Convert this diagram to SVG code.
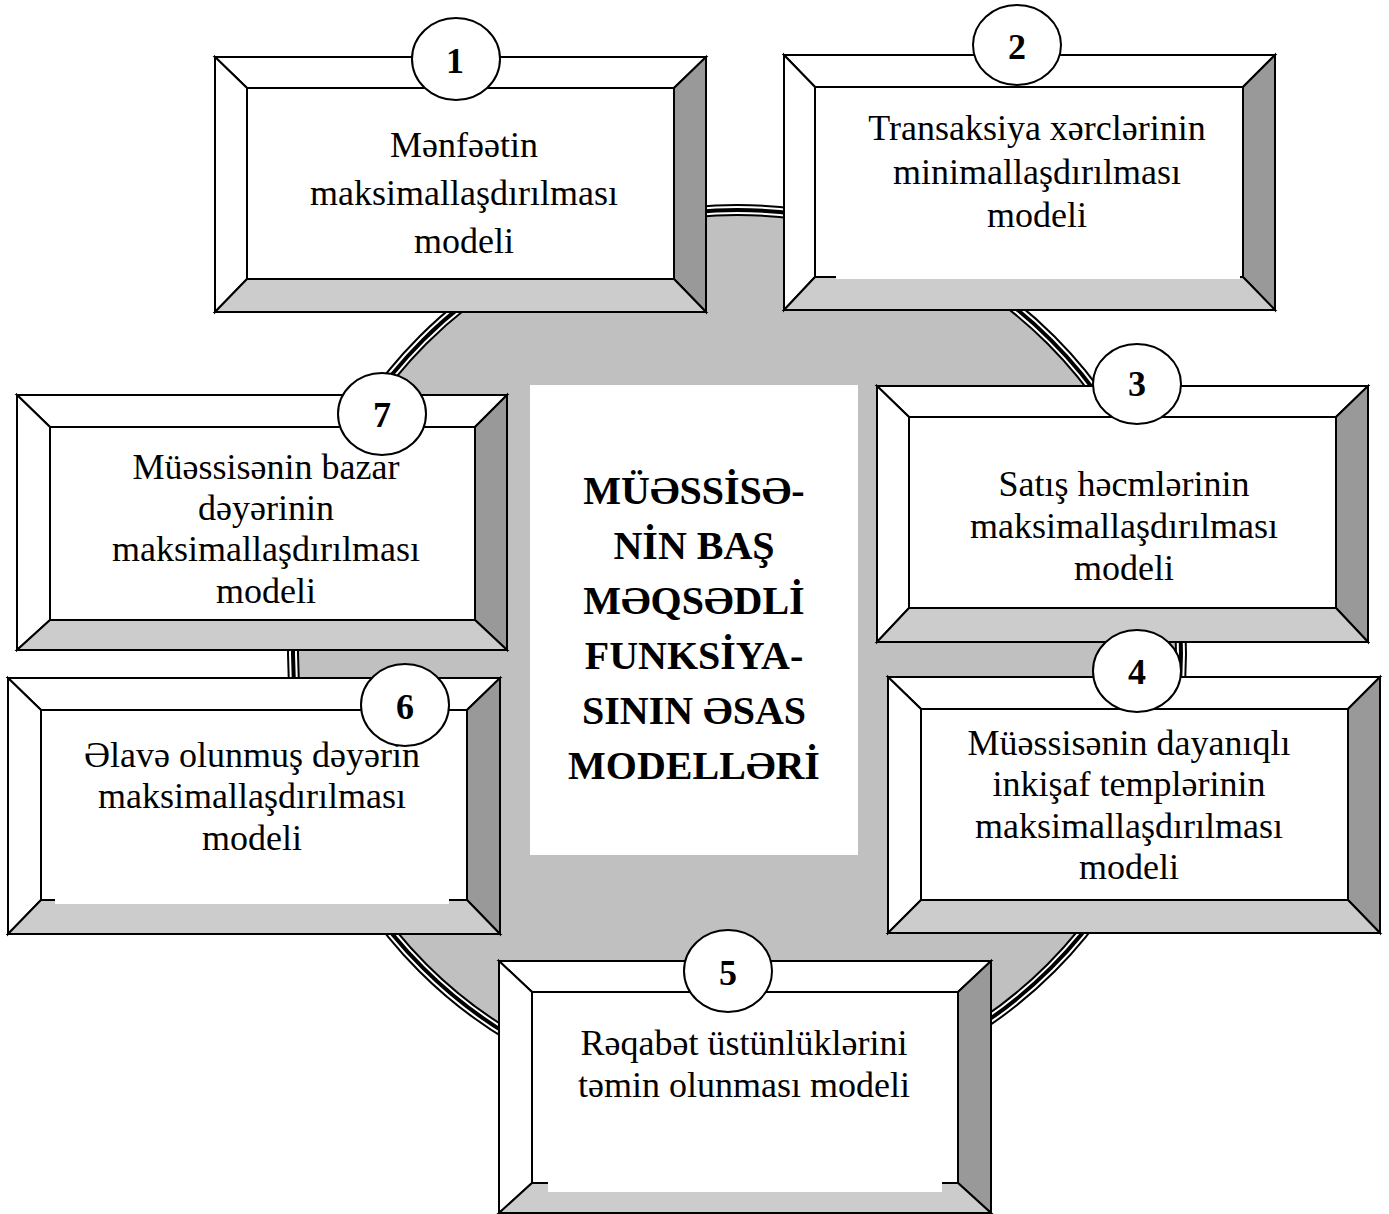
<svg xmlns="http://www.w3.org/2000/svg" width="1389" height="1214" viewBox="0 0 1389 1214">
  <style>
    .edge { stroke: #000; stroke-width: 2; stroke-linejoin: miter; }
    .lit { fill: #fff; }
    .shade { fill: #999; }
    .floor { fill: #ccc; }
    .face { fill: #fff; stroke: #000; stroke-width: 2; }
    .patch { fill: #fff; }
    .txt { font-family: "Liberation Serif", "Times New Roman", serif; font-size: 36px; fill: #000; text-anchor: middle; }
    .num { font-family: "Liberation Serif", "Times New Roman", serif; font-size: 36px; font-weight: bold; fill: #000; text-anchor: middle; }
    .badge { fill: #fff; stroke: #000; stroke-width: 2; }
    .title { font-family: "Liberation Serif", "Times New Roman", serif; font-size: 40px; font-weight: bold; fill: #000; text-anchor: middle; }
  </style>

  <rect x="0" y="0" width="1389" height="1214" fill="#fff"/>

  <!-- central disc with triple rim -->
  <g id="disc">
    <circle cx="737" cy="654" r="449" fill="#fff" stroke="#000" stroke-width="2"/>
    <circle cx="737" cy="654" r="439" fill="#c0c0c0" stroke="#000" stroke-width="2"/>
    <circle cx="737" cy="654" r="444" fill="none" stroke="#000" stroke-width="4"/>
  </g>

  <!-- central title panel -->
  <g id="center">
    <rect x="530" y="385" width="328" height="470" fill="#fff"/>
    <text class="title" x="694" y="504">MÜƏSSİSƏ-</text>
    <text class="title" x="694" y="559">NİN BAŞ</text>
    <text class="title" x="694" y="614">MƏQSƏDLİ</text>
    <text class="title" x="694" y="669">FUNKSİYA-</text>
    <text class="title" x="694" y="724">SININ ƏSAS</text>
    <text class="title" x="694" y="779">MODELLƏRİ</text>
  </g>

  <g id="connectors"></g>

  <!-- 1 -->
  <g id="node-1">
    <polygon class="lit edge" points="215,57 706,57 674,88 247,88"/>
    <polygon class="lit edge" points="215,57 247,88 247,279 215,312"/>
    <polygon class="shade edge" points="706,57 706,312 674,279 674,88"/>
    <polygon class="floor edge" points="215,312 706,312 674,279 247,279"/>
    <rect class="face" x="247" y="88" width="427" height="191"/>
    <text class="txt" x="464" y="157">Mənfəətin</text>
    <text class="txt" x="464" y="205">maksimallaşdırılması</text>
    <text class="txt" x="464" y="253">modeli</text>
    <ellipse class="badge" cx="456" cy="59" rx="44" ry="41"/>
    <text class="num" x="455" y="73">1</text>
  </g>

  <!-- 2 -->
  <g id="node-2">
    <polygon class="lit edge" points="784,55 1275,55 1243,87 815,87"/>
    <polygon class="lit edge" points="784,55 815,87 815,277 784,310"/>
    <polygon class="shade edge" points="1275,55 1275,310 1243,277 1243,87"/>
    <polygon class="floor edge" points="784,310 1275,310 1243,277 815,277"/>
    <rect class="face" x="815" y="87" width="428" height="190"/>
    <rect class="patch" x="836" y="268" width="404" height="11"/>
    <text class="txt" x="1037" y="140">Transaksiya xərclərinin</text>
    <text class="txt" x="1037" y="184">minimallaşdırılması</text>
    <text class="txt" x="1037" y="227">modeli</text>
    <ellipse class="badge" cx="1017" cy="45" rx="44" ry="40"/>
    <text class="num" x="1017" y="59">2</text>
  </g>

  <!-- 3 -->
  <g id="node-3">
    <polygon class="lit edge" points="877,386 1368,386 1336,417 909,417"/>
    <polygon class="lit edge" points="877,386 909,417 909,608 877,642"/>
    <polygon class="shade edge" points="1368,386 1368,642 1336,608 1336,417"/>
    <polygon class="floor edge" points="877,642 1368,642 1336,608 909,608"/>
    <rect class="face" x="909" y="417" width="427" height="191"/>
    <text class="txt" x="1124" y="496">Satış həcmlərinin</text>
    <text class="txt" x="1124" y="538">maksimallaşdırılması</text>
    <text class="txt" x="1124" y="580">modeli</text>
    <ellipse class="badge" cx="1137" cy="384" rx="44" ry="40"/>
    <text class="num" x="1137" y="396">3</text>
  </g>

  <!-- 4 -->
  <g id="node-4">
    <polygon class="lit edge" points="888,677 1380,677 1348,709 921,709"/>
    <polygon class="lit edge" points="888,677 921,709 921,900 888,933"/>
    <polygon class="shade edge" points="1380,677 1380,933 1348,900 1348,709"/>
    <polygon class="floor edge" points="888,933 1380,933 1348,900 921,900"/>
    <rect class="face" x="921" y="709" width="427" height="191"/>
    <text class="txt" x="1129" y="755">Müəssisənin dayanıqlı</text>
    <text class="txt" x="1129" y="796">inkişaf templərinin</text>
    <text class="txt" x="1129" y="838">maksimallaşdırılması</text>
    <text class="txt" x="1129" y="879">modeli</text>
    <ellipse class="badge" cx="1137" cy="671" rx="44" ry="41"/>
    <text class="num" x="1137" y="684">4</text>
  </g>

  <!-- 5 -->
  <g id="node-5">
    <polygon class="lit edge" points="499,961 991,961 958,992 532,992"/>
    <polygon class="lit edge" points="499,961 532,992 532,1183 499,1213"/>
    <polygon class="shade edge" points="991,961 991,1213 958,1183 958,992"/>
    <polygon class="floor edge" points="499,1213 991,1213 958,1183 532,1183"/>
    <rect class="face" x="532" y="992" width="426" height="191"/>
    <rect class="patch" x="548" y="1170" width="394" height="22"/>
    <text class="txt" x="744" y="1055">Rəqabət üstünlüklərini</text>
    <text class="txt" x="744" y="1097">təmin olunması modeli</text>
    <ellipse class="badge" cx="728" cy="971" rx="44" ry="41"/>
    <text class="num" x="728" y="985">5</text>
  </g>

  <!-- 6 -->
  <g id="node-6">
    <polygon class="lit edge" points="8,678 500,678 467,710 41,710"/>
    <polygon class="lit edge" points="8,678 41,710 41,900 8,934"/>
    <polygon class="shade edge" points="500,678 500,934 467,900 467,710"/>
    <polygon class="floor edge" points="8,934 500,934 467,900 41,900"/>
    <rect class="face" x="41" y="710" width="426" height="190"/>
    <rect class="patch" x="55" y="890" width="394" height="14"/>
    <text class="txt" x="252" y="767">Əlavə olunmuş dəyərin</text>
    <text class="txt" x="252" y="808">maksimallaşdırılması</text>
    <text class="txt" x="252" y="850">modeli</text>
    <ellipse class="badge" cx="405" cy="705" rx="44" ry="41"/>
    <text class="num" x="405" y="719">6</text>
  </g>

  <!-- 7 -->
  <g id="node-7">
    <polygon class="lit edge" points="17,395 507,395 475,427 50,427"/>
    <polygon class="lit edge" points="17,395 50,427 50,620 17,650"/>
    <polygon class="shade edge" points="507,395 507,650 475,620 475,427"/>
    <polygon class="floor edge" points="17,650 507,650 475,620 50,620"/>
    <rect class="face" x="50" y="427" width="425" height="193"/>
    <text class="txt" x="266" y="479">Müəssisənin bazar</text>
    <text class="txt" x="266" y="520">dəyərinin</text>
    <text class="txt" x="266" y="561">maksimallaşdırılması</text>
    <text class="txt" x="266" y="603">modeli</text>
    <ellipse class="badge" cx="382" cy="414" rx="44" ry="41"/>
    <text class="num" x="382" y="427">7</text>
  </g>
</svg>
